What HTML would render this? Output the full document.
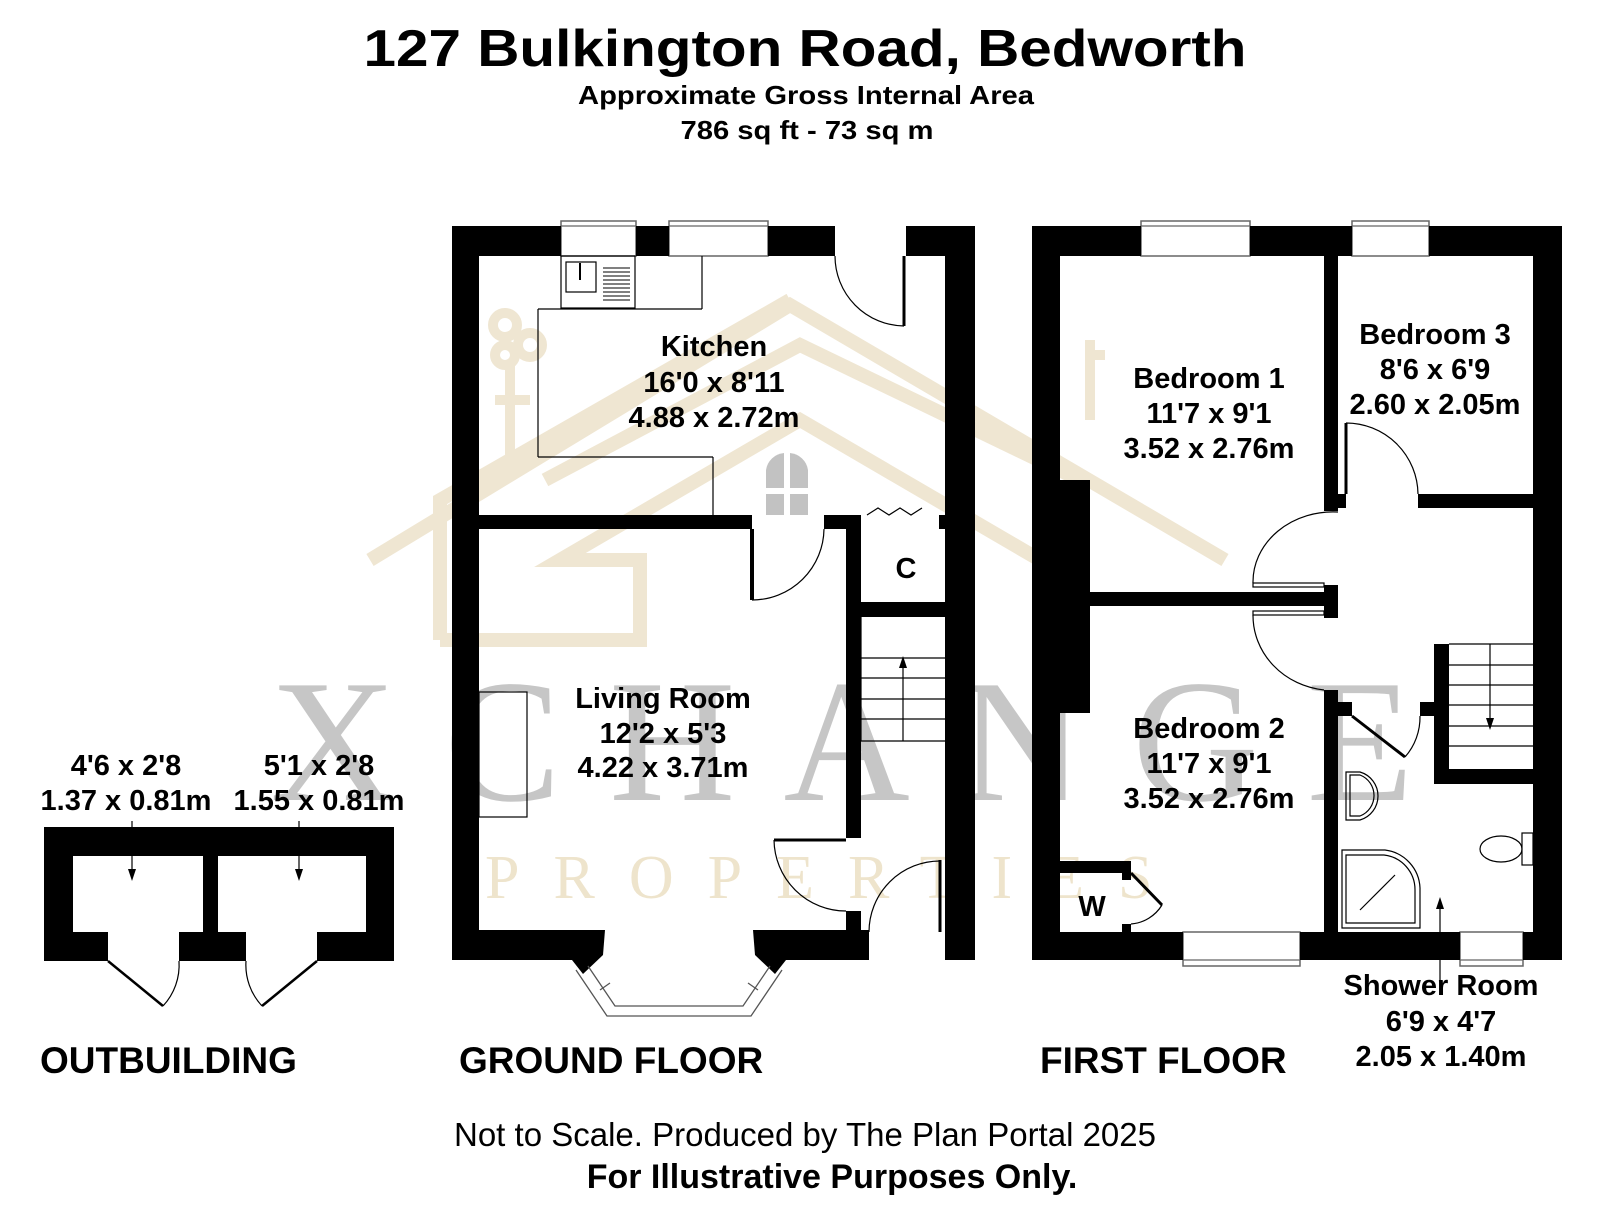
<!DOCTYPE html>
<html><head><meta charset="utf-8"><style>
html,body{margin:0;padding:0;background:#fff;}
svg{display:block;}
text{font-family:"Liberation Sans",Arial,sans-serif;}
</style></head><body>
<svg width="1600" height="1212" viewBox="0 0 1600 1212" xmlns="http://www.w3.org/2000/svg">
<!-- watermark -->
<g fill="none" stroke="#efe6d2" stroke-width="14" stroke-linejoin="miter">
<polyline points="370,560 790,305 1225,560"/>
<polyline points="440,640 440,500 790,300"/>
<polyline points="545,480 800,345 1080,480 1080,640"/>
<polyline points="440,640 640,640 640,560 560,560 800,420 1040,560"/>
</g>
<g fill="none" stroke="#efe6d2" stroke-width="10">
<circle cx="505" cy="325" r="12"/><circle cx="530" cy="345" r="12"/><circle cx="505" cy="355" r="10"/>
<line x1="510" y1="365" x2="510" y2="470"/><line x1="495" y1="400" x2="530" y2="400"/>
<line x1="1090" y1="340" x2="1090" y2="420"/><line x1="1090" y1="355" x2="1105" y2="355"/>
</g>
<text x="270" y="800" font-size="175" fill="#bdbdbd" opacity="0.85" letter-spacing="48" style="font-family:'Liberation Serif',serif">XCHANGE</text>
<text x="485" y="898" font-size="62" fill="#eee4cc" letter-spacing="34" style="font-family:'Liberation Serif',serif">PROPERTIES</text>

<!-- header -->
<text x="805" y="66" text-anchor="middle" font-size="52" font-weight="bold" textLength="883" lengthAdjust="spacingAndGlyphs">127 Bulkington Road, Bedworth</text>
<text x="806" y="104" text-anchor="middle" font-size="26" font-weight="bold" textLength="456" lengthAdjust="spacingAndGlyphs">Approximate Gross Internal Area</text>
<text x="807" y="139" text-anchor="middle" font-size="26" font-weight="bold" textLength="253" lengthAdjust="spacingAndGlyphs">786 sq ft - 73 sq m</text>

<!-- windows -->
<g fill="#fff" stroke="#666" stroke-width="1.5">
<rect x="561" y="221" width="75" height="35"/><rect x="669" y="221" width="99" height="35"/>
<rect x="1141" y="221" width="109" height="35"/><rect x="1352" y="221" width="77" height="35"/>
<rect x="1183" y="932" width="117" height="34"/><rect x="1460" y="932" width="63" height="34"/>
</g>
<g stroke="#666" stroke-width="1.2">
<line x1="561" y1="226" x2="636" y2="226"/><line x1="669" y1="226" x2="768" y2="226"/>
<line x1="1141" y1="226" x2="1250" y2="226"/><line x1="1352" y1="226" x2="1429" y2="226"/>
<line x1="1183" y1="960" x2="1300" y2="960"/><line x1="1460" y1="960" x2="1523" y2="960"/>
</g>

<!-- GROUND FLOOR walls -->
<g fill="#000">
<rect x="452" y="226" width="27" height="734"/>
<rect x="452" y="226" width="109" height="30"/>
<rect x="636" y="226" width="33" height="30"/>
<rect x="768" y="226" width="67" height="30"/>
<rect x="906" y="226" width="69" height="30"/>
<rect x="945" y="226" width="30" height="734"/>
<rect x="452" y="930" width="145" height="30"/>
<rect x="761" y="930" width="108" height="30"/>
<rect x="479" y="515" width="273" height="14"/>
<rect x="824" y="515" width="37" height="14"/>
<rect x="846" y="515" width="15" height="323"/>
<rect x="846" y="911" width="15" height="49"/>
<rect x="861" y="602" width="84" height="15"/>
<rect x="939" y="515" width="6" height="14"/>
<polygon points="572,960 590,930 605,930 603,955 583,974"/>
<polygon points="786,960 768,930 753,930 755,955 775,974"/>
</g>
<!-- bay window -->
<g fill="none" stroke="#555" stroke-width="1.3">
<polyline points="576,970 607,1016 751,1016 782,970"/>
<polyline points="588,966 615,1006 743,1006 770,966"/>
<line x1="600" y1="990" x2="610" y2="983"/><line x1="758" y1="990" x2="748" y2="983"/>
</g>
<!-- GF doors & fixtures -->
<g fill="none" stroke="#000" stroke-width="1.2">
<line x1="752" y1="529" x2="752" y2="600" stroke-width="4"/>
<path d="M752,600 A72,72 0 0 0 824,529"/>
<line x1="904" y1="256" x2="904" y2="326" stroke-width="3"/>
<path d="M835,256 A70,70 0 0 0 904,326"/>
<line x1="940" y1="860" x2="940" y2="932" stroke-width="3"/>
<path d="M869,932 A71,71 0 0 1 940,861"/>
<line x1="774" y1="840" x2="846" y2="840" stroke-width="3"/>
<path d="M774,840 A72,72 0 0 0 846,911"/>
<polyline points="867,515 878,508 889,515 900,508 911,515 922,508"/>
<rect x="561" y="256" width="74" height="52"/>
<rect x="566" y="262" width="30" height="30"/>
<line x1="580" y1="263" x2="580" y2="280" stroke-width="2"/>
<line x1="702" y1="256" x2="702" y2="309"/>
<line x1="538" y1="309" x2="702" y2="309"/>
<line x1="538" y1="309" x2="538" y2="457"/>
<line x1="538" y1="457" x2="713" y2="457"/>
<line x1="713" y1="457" x2="713" y2="515"/>
<rect x="479" y="692" width="48" height="125"/>
<line x1="861" y1="617" x2="861" y2="741"/>
<line x1="861" y1="658" x2="945" y2="658"/><line x1="861" y1="678" x2="945" y2="678"/>
<line x1="861" y1="699" x2="945" y2="699"/><line x1="861" y1="719" x2="945" y2="719"/>
<line x1="861" y1="741" x2="945" y2="741"/>
<line x1="903" y1="741" x2="903" y2="664"/>
</g>
<g stroke="#000" stroke-width="1">
<line x1="603" y1="268" x2="630" y2="268"/><line x1="603" y1="272" x2="630" y2="272"/><line x1="603" y1="276" x2="630" y2="276"/><line x1="603" y1="280" x2="630" y2="280"/><line x1="603" y1="284" x2="630" y2="284"/><line x1="603" y1="288" x2="630" y2="288"/><line x1="603" y1="292" x2="630" y2="292"/><line x1="603" y1="296" x2="630" y2="296"/><line x1="603" y1="300" x2="630" y2="300"/>
</g>
<polygon points="903,656 899,668 907,668" fill="#000"/>
<g fill="#c2c2c2">
<path d="M766,488 L766,470 A20,20 0 0 1 784,453 L784,488 Z"/>
<path d="M790,488 L790,453 A20,20 0 0 1 808,470 L808,488 Z"/>
<rect x="766" y="494" width="18" height="21"/><rect x="790" y="494" width="18" height="21"/>
</g>

<!-- FIRST FLOOR walls -->
<g fill="#000">
<rect x="1032" y="226" width="28" height="734"/>
<rect x="1032" y="226" width="109" height="30"/>
<rect x="1250" y="226" width="102" height="30"/>
<rect x="1429" y="226" width="133" height="30"/>
<rect x="1533" y="226" width="29" height="734"/>
<rect x="1032" y="932" width="151" height="28"/>
<rect x="1300" y="932" width="160" height="28"/>
<rect x="1523" y="932" width="39" height="28"/>
<rect x="1324" y="256" width="14" height="255"/>
<rect x="1324" y="585" width="14" height="33"/>
<rect x="1324" y="690" width="14" height="242"/>
<rect x="1338" y="494" width="8" height="14"/>
<rect x="1418" y="494" width="115" height="14"/>
<rect x="1090" y="592" width="234" height="14"/>
<rect x="1060" y="480" width="30" height="233"/>
<rect x="1338" y="702" width="14" height="14"/>
<rect x="1420" y="702" width="29" height="14"/>
<rect x="1434" y="644" width="15" height="140"/>
<rect x="1434" y="769" width="99" height="15"/>
<rect x="1060" y="861" width="71" height="12"/>
<rect x="1122" y="861" width="9" height="19"/>
<rect x="1122" y="924" width="9" height="8"/>
</g>
<g fill="none" stroke="#000" stroke-width="1.2">
<line x1="1346" y1="423" x2="1346" y2="494" stroke-width="3"/>
<path d="M1346,423 A72,72 0 0 1 1418,494"/>
<rect x="1253" y="583" width="71" height="4"/>
<path d="M1253,583 A80,70 0 0 1 1338,512"/>
<rect x="1253" y="611" width="71" height="4"/>
<path d="M1253,615 A80,75 0 0 0 1324,690"/>
<line x1="1352" y1="716" x2="1405" y2="757" stroke-width="3"/>
<path d="M1405,757 A60,60 0 0 0 1420,716"/>
<line x1="1131" y1="873" x2="1162" y2="905" stroke-width="3"/>
<path d="M1162,905 A40,40 0 0 1 1131,924"/>
<line x1="1449" y1="644" x2="1533" y2="644"/><line x1="1449" y1="665" x2="1533" y2="665"/>
<line x1="1449" y1="685" x2="1533" y2="685"/><line x1="1449" y1="705" x2="1533" y2="705"/>
<line x1="1449" y1="726" x2="1533" y2="726"/><line x1="1449" y1="746" x2="1533" y2="746"/>
<line x1="1490" y1="644" x2="1490" y2="722"/>
<path d="M1346,772 L1360,772 A25,25 0 0 1 1360,820 L1346,820 Z"/>
<path d="M1350,775 L1360,775 A22,22 0 0 1 1360,816 L1350,816 Z"/>
<path d="M1342,850 L1385,850 A40,40 0 0 1 1420,888 L1420,928 L1342,928 Z"/>
<path d="M1346,855 L1384,855 A35,35 0 0 1 1415,890 L1415,923 L1346,923 Z"/>
<line x1="1360" y1="910" x2="1395" y2="875"/>
<ellipse cx="1501" cy="849" rx="21" ry="13"/>
<rect x="1522" y="833" width="11" height="32"/>
<line x1="1440" y1="985" x2="1440" y2="905"/>
</g>
<polygon points="1490,730 1486,718 1494,718" fill="#000"/>
<polygon points="1440,897 1436,909 1444,909" fill="#000"/>

<!-- OUTBUILDING -->
<g fill="#000">
<rect x="44" y="827" width="350" height="29"/>
<rect x="44" y="827" width="29" height="134"/>
<rect x="366" y="827" width="28" height="134"/>
<rect x="203" y="827" width="15" height="134"/>
<rect x="44" y="932" width="64" height="29"/>
<rect x="179" y="932" width="67" height="29"/>
<rect x="317" y="932" width="77" height="29"/>
</g>
<g fill="none" stroke="#000" stroke-width="1.2">
<line x1="108" y1="961" x2="163" y2="1006" stroke-width="2.5"/>
<path d="M163,1006 A60,60 0 0 0 179,961"/>
<line x1="317" y1="961" x2="262" y2="1006" stroke-width="2.5"/>
<path d="M262,1006 A60,60 0 0 1 246,961"/>
<line x1="132" y1="821" x2="132" y2="875"/>
<line x1="299" y1="821" x2="299" y2="875"/>
</g>
<polygon points="132,881 128,869 136,869" fill="#000"/>
<polygon points="299,881 295,869 303,869" fill="#000"/>

<!-- labels -->
<g font-weight="bold" font-size="29" text-anchor="middle" fill="#000">
<text x="126" y="775">4'6 x 2'8</text>
<text x="126" y="810">1.37 x 0.81m</text>
<text x="319" y="775">5'1 x 2'8</text>
<text x="319" y="810">1.55 x 0.81m</text>
<text x="714" y="356">Kitchen</text>
<text x="714" y="392">16'0 x 8'11</text>
<text x="714" y="427">4.88 x 2.72m</text>
<text x="663" y="708">Living Room</text>
<text x="663" y="743">12'2 x 5'3</text>
<text x="663" y="777">4.22 x 3.71m</text>
<text x="906" y="578">C</text>
<text x="1209" y="388">Bedroom 1</text>
<text x="1209" y="423">11'7 x 9'1</text>
<text x="1209" y="458">3.52 x 2.76m</text>
<text x="1435" y="344">Bedroom 3</text>
<text x="1435" y="379">8'6 x 6'9</text>
<text x="1435" y="414">2.60 x 2.05m</text>
<text x="1209" y="738">Bedroom 2</text>
<text x="1209" y="773">11'7 x 9'1</text>
<text x="1209" y="808">3.52 x 2.76m</text>
<text x="1092" y="916">W</text>
<text x="1441" y="995">Shower Room</text>
<text x="1441" y="1031">6'9 x 4'7</text>
<text x="1441" y="1066">2.05 x 1.40m</text>
</g>
<g font-weight="bold" font-size="37" fill="#000">
<text x="40" y="1073">OUTBUILDING</text>
<text x="459" y="1073">GROUND FLOOR</text>
<text x="1040" y="1073">FIRST FLOOR</text>
</g>
<text x="805" y="1146" text-anchor="middle" font-size="33" fill="#000">Not to Scale. Produced by The Plan Portal 2025</text>
<text x="832" y="1188" text-anchor="middle" font-size="34" font-weight="bold" fill="#000">For Illustrative Purposes Only.</text>
</svg>
</body></html>
